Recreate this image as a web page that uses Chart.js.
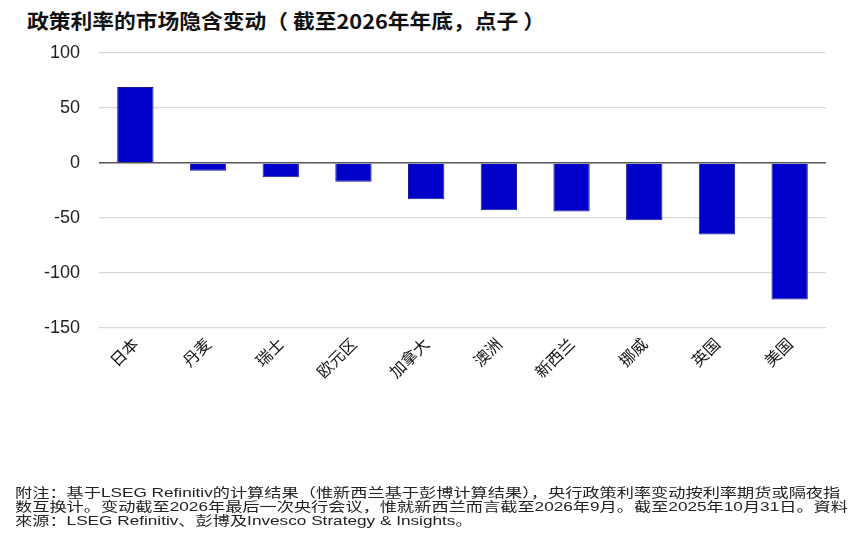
<!DOCTYPE html>
<html>
<head>
<meta charset="utf-8">
<script src="https://cdn.jsdelivr.net/npm/chart.js@4"></script>
<style>
  html, body { margin: 0; padding: 0; background: #fff; }
  .wrap { position: relative; width: 865px; height: 538px; overflow: hidden; }
  #chart { position: absolute; left: 0; top: 0; }
  .title {
    position: absolute; left: 27px; top: 6px;
    font-family: "Noto Sans CJK SC", "Noto Sans", sans-serif;
    font-weight: bold; font-size: 20px; color: #111; white-space: nowrap;
    transform-origin: left top;
  }
  .note {
    position: absolute; left: 15px; top: 486px;
    font-family: "Liberation Sans", "Noto Sans CJK SC", sans-serif;
    font-size: 13px; line-height: 13.8px; color: #222; white-space: nowrap;
    transform-origin: left top;
  }
</style>
</head>
<body>
<div class="wrap">
  <div class="title" id="title">政策利率的市场隐含变动（ 截至2026年年底，点子 ）</div>
  <canvas id="chart" width="865" height="538"></canvas>
  <div class="note" id="note"><span>附注：基于LSEG Refinitiv的计算结果（惟新西兰基于彭博计算结果），央行政策利率变动按利率期货或隔夜指</span><br><span>数互换计。变动截至2026年最后一次央行会议，惟就新西兰而言截至2026年9月。截至2025年10月31日。資料</span><br><span>來源：LSEG Refinitiv、彭博及Invesco Strategy &amp; Insights。</span></div>
</div>
<script>
// Data
const countries = ['日本', '丹麦', '瑞士', '欧元区', '加拿大', '澳洲', '新西兰', '挪威', '英国', '美国'];
const impliedChange = [69, -7, -13, -17, -33, -43, -44, -52, -65, -124];
const yTicks = [100, 50, 0, -50, -100, -150];

// stretch the title and footnote to the widths in the reference
function fitWidth(el, target) {
    let w = 0;
    const spans = el.querySelectorAll('span');
    if (spans.length) spans.forEach(s => { w = Math.max(w, s.getBoundingClientRect().width); });
    else w = el.getBoundingClientRect().width;
    el.style.transform = 'scaleX(' + (target / w) + ')';
}
fitWidth(document.getElementById('title'), 518);
fitWidth(document.getElementById('note'), 833);

const ctx = document.getElementById('chart').getContext('2d');
const chart = new Chart(ctx, {
    type: 'bar',
    data: {
        labels: countries,
        datasets: [{
            data: impliedChange,
            backgroundColor: '#0000c8',
            borderColor: '#1c1c9a',
            borderWidth: 1,
            barPercentage: 0.5,
            categoryPercentage: 1.0
        }]
    },
    options: {
        responsive: false,
        animation: false,
        layout: { padding: { left: 0, top: 53, right: 39, bottom: 0 } },
        plugins: { legend: { display: false }, tooltip: { enabled: false } },
        scales: {
            x: {
                grid: { display: false, drawTicks: false },
                border: { display: false },
                ticks: {
                    maxRotation: 45, minRotation: 45, padding: 6,
                    color: '#111',
                    font: { family: '"Noto Sans CJK SC", sans-serif', size: 16 }
                },
                afterFit: scale => { scale.height = 538 - 328; }
            },
            y: {
                min: -150, max: 100,
                afterBuildTicks: scale => { scale.ticks = yTicks.map(v => ({ value: v })); },
                grid: {
                    drawTicks: false,
                    color: ctx => ctx.tick && ctx.tick.value === 0 ? '#555' : '#d9d9d9',
                    lineWidth: ctx => ctx.tick && ctx.tick.value === 0 ? 1.5 : 1.2
                },
                border: { display: false },
                ticks: {
                    padding: 19, color: '#222',
                    font: { family: '"Liberation Sans", Arial, sans-serif', size: 18 }
                },
                afterFit: scale => { scale.width = 99; }
            }
        }
    }
});
</script>
</body>
</html>
